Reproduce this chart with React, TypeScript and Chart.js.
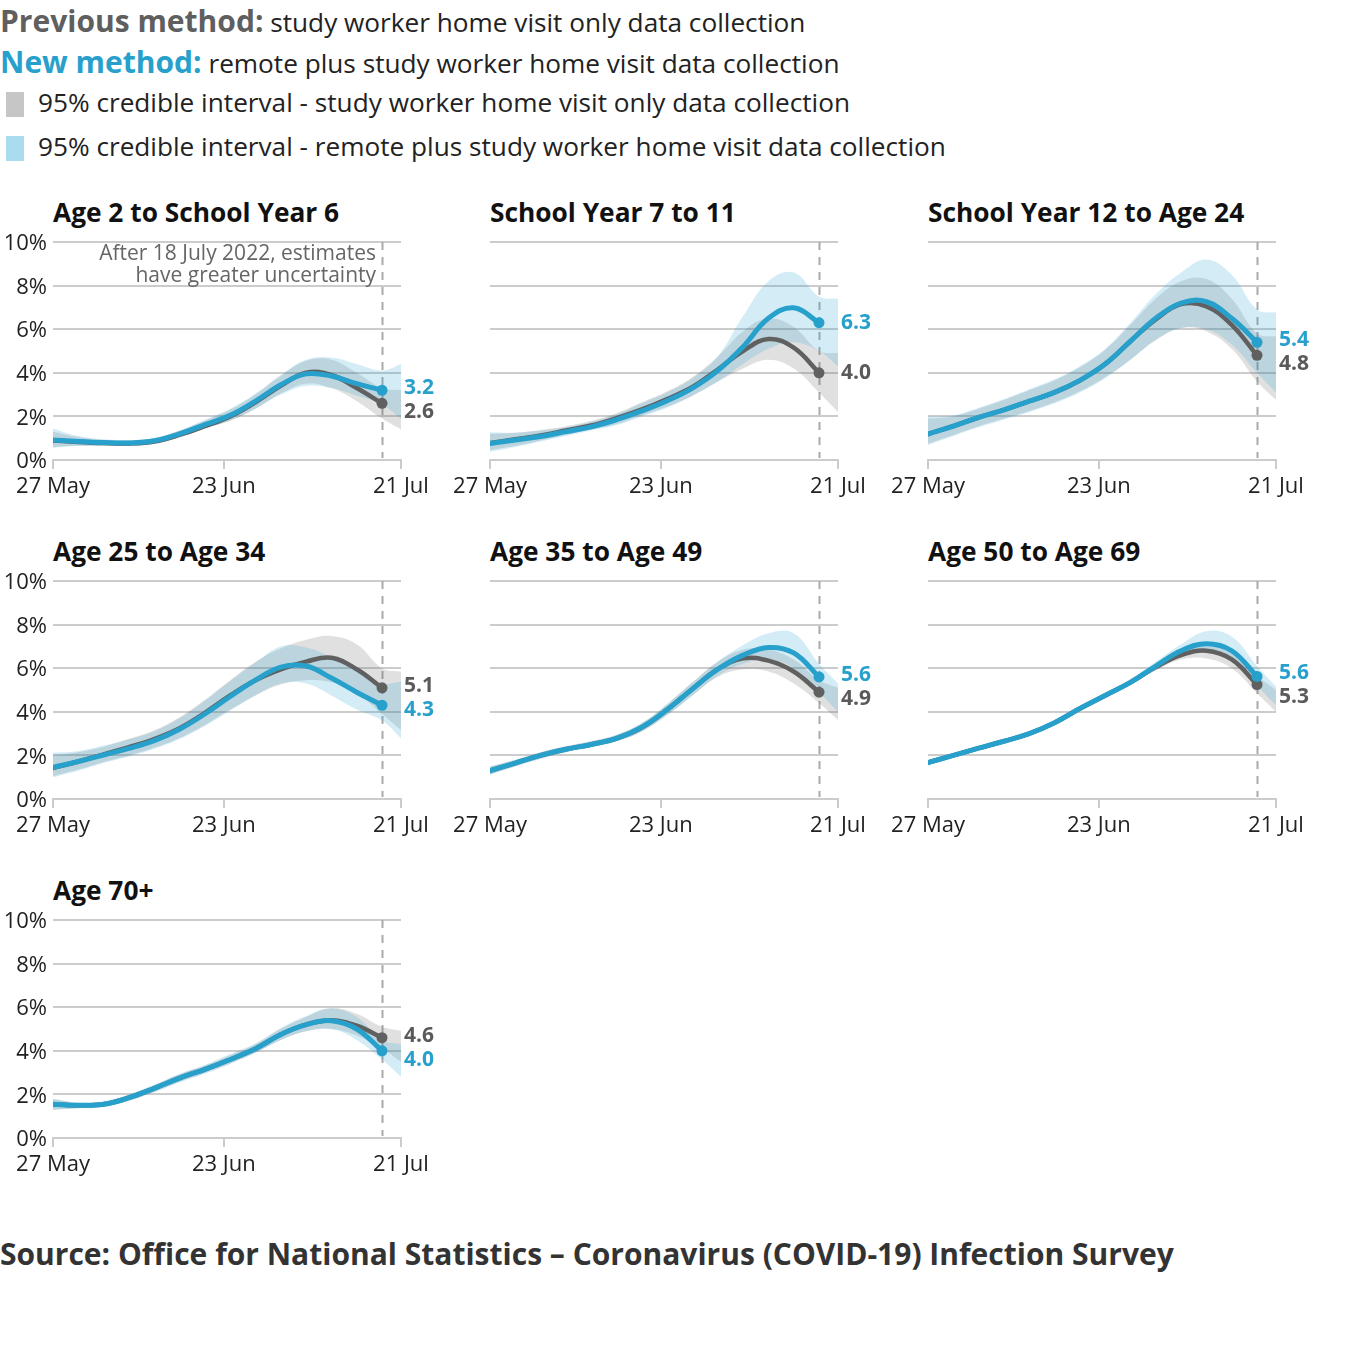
import React, { useEffect, useRef } from "react";
import { Chart, registerables } from "chart.js";

Chart.register(...registerables);

// ---------- data ----------
const LINE_DAYS = [0, 4, 8, 12, 16, 20, 24, 28, 32, 36, 40, 44, 48, 52];
const BAND_DAYS = [0, 4, 8, 12, 16, 20, 24, 28, 32, 36, 40, 44, 48, 52, 55];
const TICK_DAYS = [0, 27, 55];
const TICK_LABELS = ["27 May", "23 Jun", "21 Jul"];
const Y_TICKS = [0, 2, 4, 6, 8, 10];
const CUTOFF_DAY = 52;
const NOTE_LINES = ["After 18 July 2022, estimates", "have greater uncertainty"];

const TITLES = [
  "Age 2 to School Year 6",
  "School Year 7 to 11",
  "School Year 12 to Age 24",
  "Age 25 to Age 34",
  "Age 35 to Age 49",
  "Age 50 to Age 69",
  "Age 70+",
];

// Age 2 to School Year 6
const p1Prev = [0.9, 0.83, 0.78, 0.76, 0.85, 1.15, 1.55, 2.0, 2.65, 3.4, 4.0, 3.9, 3.3, 2.6];
const p1New = [0.92, 0.85, 0.8, 0.78, 0.88, 1.2, 1.62, 2.05, 2.7, 3.45, 3.95, 3.85, 3.5, 3.2];
const p1PrevLow = [0.6, 0.65, 0.65, 0.65, 0.75, 1.05, 1.45, 1.8, 2.35, 3.05, 3.5, 3.3, 2.7, 1.9, 1.4];
const p1PrevHigh = [1.3, 1.05, 0.92, 0.9, 1.0, 1.35, 1.8, 2.3, 3.0, 3.85, 4.55, 4.6, 4.0, 3.3, 3.2];
const p1NewLow = [0.55, 0.65, 0.65, 0.65, 0.75, 1.05, 1.45, 1.8, 2.35, 3.0, 3.4, 3.3, 2.95, 2.55, 1.9];
const p1NewHigh = [1.45, 1.1, 0.95, 0.92, 1.0, 1.35, 1.85, 2.35, 3.05, 3.9, 4.6, 4.7, 4.4, 4.1, 4.4];

// School Year 7 to 11
const p2Prev = [0.78, 0.95, 1.12, 1.35, 1.58, 1.92, 2.32, 2.8, 3.35, 4.15, 5.0, 5.55, 5.15, 4.0];
const p2New = [0.76, 0.92, 1.08, 1.3, 1.52, 1.85, 2.25, 2.72, 3.3, 4.1, 5.2, 6.5, 6.98, 6.3];
const p2PrevLow = [0.45, 0.65, 0.9, 1.15, 1.4, 1.65, 2.05, 2.45, 2.95, 3.6, 4.2, 4.6, 4.2, 3.1, 2.2];
const p2PrevHigh = [1.2, 1.25, 1.38, 1.55, 1.8, 2.15, 2.65, 3.15, 3.8, 4.75, 5.9, 6.5, 6.1, 5.0, 4.9];
const p2NewLow = [0.38, 0.6, 0.85, 1.1, 1.35, 1.6, 2.0, 2.4, 2.95, 3.6, 4.4, 5.1, 5.4, 5.0, 4.3];
const p2NewHigh = [1.27, 1.25, 1.35, 1.5, 1.75, 2.1, 2.6, 3.1, 3.75, 4.75, 6.6, 8.2, 8.6, 7.5, 7.4];

// School Year 12 to Age 24
const p3Prev = [1.19, 1.55, 1.95, 2.3, 2.7, 3.1, 3.65, 4.4, 5.45, 6.45, 7.15, 7.05, 6.2, 4.8];
const p3New = [1.19, 1.55, 1.95, 2.3, 2.7, 3.1, 3.65, 4.4, 5.45, 6.5, 7.2, 7.26, 6.5, 5.4];
const p3PrevLow = [0.75, 1.15, 1.55, 1.9, 2.25, 2.65, 3.15, 3.8, 4.6, 5.5, 6.05, 5.9, 5.1, 3.6, 2.75];
const p3PrevHigh = [1.9, 2.0, 2.35, 2.75, 3.2, 3.65, 4.25, 5.05, 6.2, 7.4, 8.2, 8.3, 7.4, 5.8, 5.66];
const p3NewLow = [0.69, 1.1, 1.5, 1.85, 2.2, 2.6, 3.1, 3.75, 4.6, 5.5, 6.05, 6.0, 5.3, 4.0, 3.1];
const p3NewHigh = [1.99, 2.05, 2.4, 2.8, 3.25, 3.7, 4.3, 5.1, 6.3, 7.6, 8.6, 9.2, 8.5, 6.9, 6.76];

// Age 25 to Age 34
const p4Prev = [1.42, 1.72, 2.05, 2.38, 2.75, 3.25, 3.95, 4.75, 5.45, 5.95, 6.3, 6.48, 5.95, 5.1];
const p4New = [1.45, 1.72, 2.02, 2.32, 2.68, 3.2, 3.9, 4.7, 5.45, 6.05, 6.1, 5.55, 4.9, 4.3];
const p4PrevLow = [1.05, 1.35, 1.7, 2.0, 2.35, 2.8, 3.4, 4.1, 4.75, 5.25, 5.45, 5.35, 4.85, 3.9, 3.16];
const p4PrevHigh = [2.0, 2.15, 2.4, 2.75, 3.15, 3.75, 4.55, 5.45, 6.3, 6.9, 7.3, 7.48, 7.1, 6.0, 5.84];
const p4NewLow = [1.0, 1.3, 1.65, 1.95, 2.3, 2.75, 3.35, 4.05, 4.75, 5.3, 5.3, 4.75, 4.1, 3.6, 2.78];
const p4NewHigh = [2.12, 2.2, 2.45, 2.75, 3.1, 3.7, 4.5, 5.4, 6.25, 7.0, 6.95, 6.5, 5.9, 5.3, 5.38];

// Age 35 to Age 49
const p5Prev = [1.3, 1.65, 2.0, 2.28, 2.5, 2.78, 3.28, 4.1, 5.05, 5.95, 6.45, 6.35, 5.85, 4.9];
const p5New = [1.3, 1.65, 2.0, 2.28, 2.5, 2.78, 3.3, 4.1, 5.05, 5.95, 6.6, 6.95, 6.7, 5.6];
const p5PrevLow = [1.12, 1.5, 1.85, 2.15, 2.38, 2.65, 3.1, 3.85, 4.75, 5.6, 5.95, 5.85, 5.3, 4.4, 3.62];
const p5PrevHigh = [1.48, 1.8, 2.15, 2.42, 2.65, 2.95, 3.48, 4.35, 5.35, 6.3, 6.85, 6.85, 6.4, 5.45, 5.1];
const p5NewLow = [1.1, 1.5, 1.85, 2.15, 2.38, 2.65, 3.1, 3.85, 4.75, 5.65, 6.2, 6.4, 6.0, 4.9, 4.0];
const p5NewHigh = [1.5, 1.8, 2.15, 2.42, 2.65, 2.95, 3.5, 4.35, 5.35, 6.3, 7.05, 7.6, 7.6, 6.2, 5.3];

// Age 50 to Age 69
const p6Prev = [1.67, 2.0, 2.33, 2.65, 3.0, 3.5, 4.15, 4.75, 5.35, 6.05, 6.6, 6.8, 6.4, 5.25];
const p6New = [1.67, 2.0, 2.33, 2.65, 3.0, 3.5, 4.15, 4.75, 5.35, 6.1, 6.8, 7.12, 6.8, 5.62];
const p6PrevLow = [1.58, 1.92, 2.25, 2.58, 2.92, 3.4, 4.05, 4.65, 5.25, 5.9, 6.4, 6.45, 6.0, 4.85, 4.0];
const p6PrevHigh = [1.78, 2.1, 2.42, 2.75, 3.08, 3.6, 4.25, 4.85, 5.45, 6.2, 6.85, 7.0, 6.75, 5.65, 5.0];
const p6NewLow = [1.55, 1.9, 2.25, 2.58, 2.92, 3.4, 4.05, 4.65, 5.25, 5.95, 6.55, 6.8, 6.4, 5.2, 4.3];
const p6NewHigh = [1.8, 2.1, 2.42, 2.75, 3.1, 3.6, 4.28, 4.88, 5.5, 6.3, 7.1, 7.7, 7.45, 6.1, 5.15];

// Age 70+
const p7Prev = [1.55, 1.5, 1.55, 1.85, 2.28, 2.75, 3.15, 3.6, 4.1, 4.75, 5.2, 5.4, 5.15, 4.6];
const p7New = [1.55, 1.5, 1.55, 1.85, 2.28, 2.75, 3.15, 3.6, 4.1, 4.75, 5.2, 5.38, 5.0, 4.0];
const p7PrevLow = [1.3, 1.38, 1.45, 1.72, 2.12, 2.58, 2.98, 3.42, 3.92, 4.5, 4.9, 5.0, 4.7, 4.1, 3.5];
const p7PrevHigh = [1.78, 1.62, 1.66, 1.98, 2.42, 2.92, 3.32, 3.8, 4.3, 5.0, 5.55, 5.95, 5.7, 5.1, 4.92];
const p7NewLow = [1.3, 1.35, 1.42, 1.7, 2.1, 2.55, 2.95, 3.4, 3.9, 4.5, 4.9, 5.0, 4.5, 3.6, 2.81];
const p7NewHigh = [1.8, 1.62, 1.68, 2.0, 2.45, 2.95, 3.35, 3.85, 4.35, 5.05, 5.6, 5.95, 5.55, 4.5, 4.3];

const PANELS = [
  { prev: p1Prev, next: p1New, prevLow: p1PrevLow, prevHigh: p1PrevHigh, newLow: p1NewLow, newHigh: p1NewHigh, note: true },
  { prev: p2Prev, next: p2New, prevLow: p2PrevLow, prevHigh: p2PrevHigh, newLow: p2NewLow, newHigh: p2NewHigh, note: false },
  { prev: p3Prev, next: p3New, prevLow: p3PrevLow, prevHigh: p3PrevHigh, newLow: p3NewLow, newHigh: p3NewHigh, note: false },
  { prev: p4Prev, next: p4New, prevLow: p4PrevLow, prevHigh: p4PrevHigh, newLow: p4NewLow, newHigh: p4NewHigh, note: false },
  { prev: p5Prev, next: p5New, prevLow: p5PrevLow, prevHigh: p5PrevHigh, newLow: p5NewLow, newHigh: p5NewHigh, note: false },
  { prev: p6Prev, next: p6New, prevLow: p6PrevLow, prevHigh: p6PrevHigh, newLow: p6NewLow, newHigh: p6NewHigh, note: false },
  { prev: p7Prev, next: p7New, prevLow: p7PrevLow, prevHigh: p7PrevHigh, newLow: p7NewLow, newHigh: p7NewHigh, note: false },
];

// ---------- style ----------
const FONT = "'Open Sans', 'Noto Sans', sans-serif";
const BLUE = "#27a0cc";
const GRAY = "#606060";
const BLUE_BAND = "rgba(39,160,204,0.2)";
const GRAY_BAND = "rgba(100,100,100,0.2)";
const GRID = "#cccccc";
const TEXT = "#222222";

const COL_LEFT = [53, 490, 928];
const ROW_TOP = [242, 581, 920];
const Y_AXIS_W = 53;
const PAD_TOP = 20;
const PLOT_W = 348;
const PLOT_H = 218;
const X_AXIS_H = 45;
const CANVAS_W = Y_AXIS_W + PLOT_W + 36;
const CANVAS_H = PAD_TOP + PLOT_H + X_AXIS_H;

const toXY = (days: number[], vals: number[]) => vals.map((v, i) => ({ x: days[i], y: v }));

function Panel({ idx }: { idx: number }) {
  const ref = useRef<HTMLCanvasElement | null>(null);
  const col = idx % 3;
  const row = Math.floor(idx / 3);
  const p = PANELS[idx];

  useEffect(() => {
    if (!ref.current) return;
    const lastIdx = LINE_DAYS.length - 1;
    const overlay = {
      id: "overlay",
      beforeDatasetsDraw(chart: any) {
        const { ctx, chartArea, scales } = chart;
        const x = Math.round(scales.x.getPixelForValue(CUTOFF_DAY)) + 0.5;
        ctx.save();
        ctx.strokeStyle = "#aaaaaa";
        ctx.lineWidth = 2;
        ctx.setLineDash([8, 7]);
        ctx.beginPath();
        ctx.moveTo(x, chartArea.top);
        ctx.lineTo(x, chartArea.bottom - 2);
        ctx.stroke();
        ctx.restore();
      },
      afterDatasetsDraw(chart: any) {
        const { ctx, chartArea, scales } = chart;
        const xCut = scales.x.getPixelForValue(CUTOFF_DAY);
        ctx.save();
        if (p.note) {
          ctx.font = `21px ${FONT}`;
          ctx.fillStyle = "#666666";
          ctx.textAlign = "right";
          ctx.textBaseline = "middle";
          NOTE_LINES.forEach((t, i) => ctx.fillText(t, xCut - 6, chartArea.top + 12 + i * 22));
        }
        const yNew = scales.y.getPixelForValue(p.next[lastIdx]);
        const yPrev = scales.y.getPixelForValue(p.prev[lastIdx]);
        const items = [
          { y: yNew, text: p.next[lastIdx].toFixed(1), color: BLUE },
          { y: yPrev, text: p.prev[lastIdx].toFixed(1), color: "#5a5a5a" },
        ].sort((a, b) => a.y - b.y);
        const gap = 24;
        const sep = items[1].y - items[0].y;
        let y0 = items[0].y;
        let y1 = items[1].y;
        if (sep < gap) {
          y0 = items[0].y - (gap - sep) * 0.2;
          y1 = y0 + gap;
        }
        ctx.font = `bold 21px ${FONT}`;
        ctx.textAlign = "left";
        ctx.textBaseline = "middle";
        ctx.fillStyle = items[0].color;
        ctx.fillText(items[0].text, xCut + 22, y0);
        ctx.fillStyle = items[1].color;
        ctx.fillText(items[1].text, xCut + 22, y1);
        ctx.restore();
      },
    };

    const lastPoint = (ctx: any) => (ctx.dataIndex === lastIdx ? 5.5 : 0);

    const chart = new Chart(ref.current, {
      type: "line",
      data: {
        datasets: [
          { data: toXY(BAND_DAYS, p.prevLow), borderWidth: 0, pointRadius: 0, fill: false, order: 3 },
          { data: toXY(BAND_DAYS, p.prevHigh), borderWidth: 0, pointRadius: 0, fill: 0, backgroundColor: GRAY_BAND, order: 3 },
          { data: toXY(BAND_DAYS, p.newLow), borderWidth: 0, pointRadius: 0, fill: false, order: 2 },
          { data: toXY(BAND_DAYS, p.newHigh), borderWidth: 0, pointRadius: 0, fill: 2, backgroundColor: BLUE_BAND, order: 2 },
          {
            data: toXY(LINE_DAYS, p.prev), borderColor: GRAY, borderWidth: 4.5, fill: false,
            pointRadius: lastPoint, pointBackgroundColor: GRAY, pointBorderWidth: 0, order: 1,
          },
          {
            data: toXY(LINE_DAYS, p.next), borderColor: BLUE, borderWidth: 5, fill: false,
            pointRadius: lastPoint, pointBackgroundColor: BLUE, pointBorderWidth: 0, order: 0,
          },
        ] as any,
      },
      options: {
        animation: false,
        responsive: false,
        maintainAspectRatio: false,
        devicePixelRatio: 1,
        layout: { padding: { top: PAD_TOP, right: CANVAS_W - Y_AXIS_W - PLOT_W, left: 0, bottom: 0 } },
        elements: {
          line: { tension: 0.4, borderCapStyle: "round", borderJoinStyle: "round" },
          point: { hitRadius: 0, hoverRadius: 0 },
        },
        plugins: { legend: { display: false }, tooltip: { enabled: false } },
        events: [],
        scales: {
          x: {
            type: "linear",
            min: 0,
            max: 55,
            afterBuildTicks: (s: any) => {
              s.ticks = TICK_DAYS.map((v) => ({ value: v }));
            },
            afterFit: (s: any) => {
              s.height = X_AXIS_H;
            },
            ticks: {
              autoSkip: false,
              maxRotation: 0,
              padding: 5,
              color: TEXT,
              font: { family: FONT, size: 22 },
              callback: (v: any) => {
                const i = TICK_DAYS.indexOf(Number(v));
                return i >= 0 ? TICK_LABELS[i] : "";
              },
            },
            grid: { drawOnChartArea: false, drawTicks: true, tickLength: 9, color: GRID, lineWidth: 2 },
            border: { display: true, color: GRID, width: 2 },
          },
          y: {
            min: 0,
            max: 10,
            afterBuildTicks: (s: any) => {
              s.ticks = Y_TICKS.map((v) => ({ value: v }));
            },
            afterFit: (s: any) => {
              s.width = Y_AXIS_W;
            },
            ticks: {
              display: col === 0,
              padding: 6,
              labelOffset: 2,
              color: TEXT,
              font: { family: FONT, size: 22 },
              callback: (v: any) => `${v}%`,
            },
            grid: { color: GRID, lineWidth: 2, drawTicks: false },
            border: { display: false },
          },
        },
      } as any,
      plugins: [overlay],
    });
    return () => chart.destroy();
  }, [idx]);

  return (
    <canvas
      ref={ref}
      width={CANVAS_W}
      height={CANVAS_H}
      style={{
        position: "absolute",
        left: COL_LEFT[col] - Y_AXIS_W,
        top: ROW_TOP[row] - PAD_TOP,
        width: CANVAS_W,
        height: CANVAS_H,
      }}
    />
  );
}

const textAt = (baseline: number, size: number) => ({
  position: "absolute" as const,
  top: baseline - 0.888 * size,
  fontSize: size,
  lineHeight: `${size}px`,
  whiteSpace: "nowrap" as const,
});

export default function App() {
  return (
    <div
      style={{
        position: "absolute",
        left: 0,
        top: 0,
        width: 1363,
        height: 1345,
        background: "#ffffff",
        fontFamily: FONT,
        color: TEXT,
        overflow: "hidden",
      }}
    >
      <div style={{ ...textAt(31, 26.2), left: 0 }}>
        <span style={{ fontWeight: 700, fontSize: 30, color: "#5f5f5f" }}>Previous method:</span> study worker home visit only data collection
      </div>
      <div style={{ ...textAt(72, 26.2), left: 0 }}>
        <span style={{ fontWeight: 700, fontSize: 30, color: BLUE }}>New method:</span> remote plus study worker home visit data collection
      </div>
      <div style={{ position: "absolute", left: 6, top: 92, width: 18, height: 25, background: "#c6c6c6" }} />
      <div style={{ ...textAt(112, 26.2), left: 38 }}>95% credible interval - study worker home visit only data collection</div>
      <div style={{ position: "absolute", left: 6, top: 136, width: 18, height: 25, background: "#a9dcee" }} />
      <div style={{ ...textAt(156, 26.2), left: 38 }}>95% credible interval - remote plus study worker home visit data collection</div>

      {TITLES.map((t, i) => (
        <div
          key={t}
          style={{
            ...textAt(ROW_TOP[Math.floor(i / 3)] - 20, 26.3),
            left: COL_LEFT[i % 3],
            fontWeight: 700,
            color: "#111111",
          }}
        >
          {t}
        </div>
      ))}

      {PANELS.map((_, i) => (
        <Panel key={i} idx={i} />
      ))}

      <div style={{ ...textAt(1266, 30), left: 0, fontWeight: 700, color: "#333333" }}>
        Source: Office for National Statistics – Coronavirus (COVID-19) Infection Survey
      </div>
    </div>
  );
}
